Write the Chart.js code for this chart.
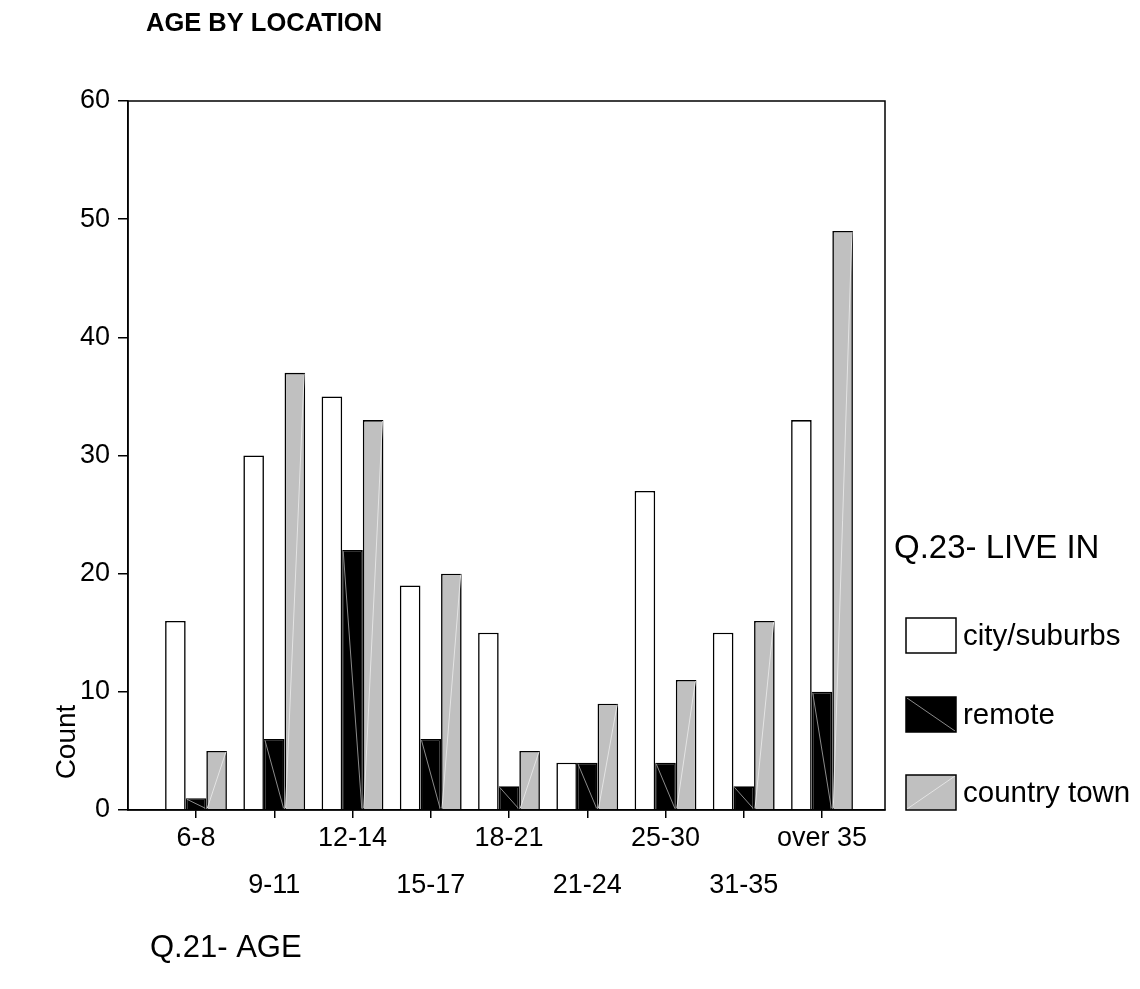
<!DOCTYPE html>
<html>
<head>
<meta charset="utf-8">
<script src="https://cdn.jsdelivr.net/npm/chart.js@4.4.1/dist/chart.umd.min.js"></script>
<style>
  html, body { margin: 0; padding: 0; background: #ffffff; }
  #wrap { width: 1140px; height: 989px; position: relative; }
</style>
</head>
<body>
<div id="wrap"><canvas id="c" width="1140" height="989"></canvas></div>
<script>
// ---- data ----
const categories = ['6-8', '9-11', '12-14', '15-17', '18-21', '21-24', '25-30', '31-35', 'over 35'];
const seriesNames = ['city/suburbs', 'remote', 'country town'];
const citySuburbs = [16, 30, 35, 19, 15, 4, 27, 15, 33];
const remote      = [1, 6, 22, 6, 2, 4, 4, 2, 10];
const countryTown = [5, 37, 33, 20, 5, 9, 11, 16, 49];
const yTicks = [0, 10, 20, 30, 40, 50, 60];
const chartTitle = 'AGE BY LOCATION';
const xTitle = 'Q.21- AGE';
const yTitle = 'Count';
const legendTitle = 'Q.23- LIVE IN';

// ---- styles ----
const FONT = "'Liberation Sans', Arial, Helvetica, sans-serif";
const fills = ['#ffffff', '#000000', '#c0c0c0'];
const diagStyles = [null, {color: '#8a8a8a', dir: 'down'}, {color: '#e4e4e4', dir: 'up'}];

const toPoints = arr => arr.map((v, i) => ({x: i, y: v}));

const decorPlugin = {
  id: 'decor',
  afterDatasetsDraw(chart) {
    const ctx = chart.ctx;
    chart.data.datasets.forEach((ds, di) => {
      const st = diagStyles[di];
      if (!st) return;
      const meta = chart.getDatasetMeta(di);
      ctx.save();
      ctx.strokeStyle = st.color;
      ctx.lineWidth = 1;
      meta.data.forEach(el => {
        const l = el.x - el.width / 2 + 1, r = el.x + el.width / 2 - 1;
        const t = Math.min(el.y, el.base) + 1, b = Math.max(el.y, el.base) - 1;
        if (b - t < 1) return;
        ctx.beginPath();
        if (st.dir === 'down') { ctx.moveTo(l, t); ctx.lineTo(r, b); }
        else { ctx.moveTo(l, b); ctx.lineTo(r, t); }
        ctx.stroke();
      });
      ctx.restore();
    });
  },
  afterDraw(chart) {
    const ctx = chart.ctx;
    const a = chart.chartArea;
    ctx.save();
    ctx.strokeStyle = '#000';
    ctx.lineWidth = 1.5;
    ctx.strokeRect(a.left, a.top, a.right - a.left, a.bottom - a.top);
    ctx.fillStyle = '#000';
    ctx.font = 'bold 25.5px ' + FONT;
    ctx.textAlign = 'left';
    ctx.textBaseline = 'middle';
    ctx.fillText(chartTitle, 146, 24);
    ctx.font = '31px ' + FONT;
    ctx.fillText(xTitle, 150, 948);
    ctx.save();
    ctx.translate(67, 742);
    ctx.rotate(-Math.PI / 2);
    ctx.textAlign = 'center';
    ctx.font = '28px ' + FONT;
    ctx.fillText(yTitle, 0, 0);
    ctx.restore();
    ctx.font = '33px ' + FONT;
    ctx.textAlign = 'left';
    ctx.fillText(legendTitle, 894, 549);
    const boxX = 906, boxW = 50, boxH = 35;
    const boxYs = [618, 697, 775];
    chart.data.datasets.forEach((ds, i) => {
      const y = boxYs[i];
      ctx.fillStyle = ds.backgroundColor;
      ctx.fillRect(boxX, y, boxW, boxH);
      const st = diagStyles[i];
      if (st) {
        ctx.strokeStyle = st.color;
        ctx.lineWidth = 1;
        ctx.beginPath();
        if (st.dir === 'down') { ctx.moveTo(boxX + 1, y + 1); ctx.lineTo(boxX + boxW - 1, y + boxH - 1); }
        else { ctx.moveTo(boxX + 1, y + boxH - 1); ctx.lineTo(boxX + boxW - 1, y + 1); }
        ctx.stroke();
      }
      ctx.strokeStyle = '#000';
      ctx.lineWidth = 1.5;
      ctx.strokeRect(boxX, y, boxW, boxH);
      ctx.fillStyle = '#000';
      ctx.font = '29.5px ' + FONT;
      ctx.fillText(ds.label, 963, y + boxH / 2 + 1);
    });
    ctx.restore();
  }
};

const chart = new Chart(document.getElementById('c'), {
  type: 'bar',
  data: {
    datasets: [
      {label: seriesNames[0], data: toPoints(citySuburbs), backgroundColor: fills[0]},
      {label: seriesNames[1], data: toPoints(remote), backgroundColor: fills[1]},
      {label: seriesNames[2], data: toPoints(countryTown), backgroundColor: fills[2]}
    ]
  },
  options: {
    responsive: false,
    animation: false,
    devicePixelRatio: 1,
    layout: { padding: { left: 0, top: 101, right: 255, bottom: 0 } },
    datasets: {
      bar: {
        borderColor: '#000000',
        borderWidth: 1.6,
        borderSkipped: 'start',
        barPercentage: 1.0,
        categoryPercentage: 0.79
      }
    },
    plugins: {
      legend: { display: false },
      title: { display: false },
      tooltip: { enabled: false }
    },
    scales: {
      x: {
        type: 'linear',
        offset: false,
        min: -0.869,
        max: 8.805,
        afterBuildTicks(scale) { scale.ticks = categories.map((c, i) => ({value: i})); },
        afterFit(scale) { scale.height = 989 - 810; },
        grid: { display: true, offset: false, drawOnChartArea: false, drawTicks: true, tickLength: 8, color: '#000', lineWidth: 1.5 },
        border: { display: true, color: '#000', width: 1.5 },
        ticks: {
          autoSkip: false,
          maxRotation: 0,
          minRotation: 0,
          color: '#000',
          padding: -3,
          font: { family: FONT, size: 27, lineHeight: 1.74 },
          callback(value) {
            const i = Math.round(value);
            const lab = categories[i];
            if (lab === undefined) return '';
            return i % 2 === 1 ? ['', lab] : lab;
          }
        }
      },
      y: {
        type: 'linear',
        min: 0,
        max: 60,
        afterBuildTicks(scale) { scale.ticks = yTicks.map(v => ({value: v})); },
        afterFit(scale) { scale.width = 128; },
        grid: { display: true, drawOnChartArea: false, drawTicks: true, tickLength: 10, color: '#000', lineWidth: 1.5 },
        border: { display: true, color: '#000', width: 1.5 },
        ticks: {
          color: '#000',
          padding: 8,
          font: { family: FONT, size: 27 }
        }
      }
    }
  },
  plugins: [decorPlugin]
});
</script>
</body>
</html>
